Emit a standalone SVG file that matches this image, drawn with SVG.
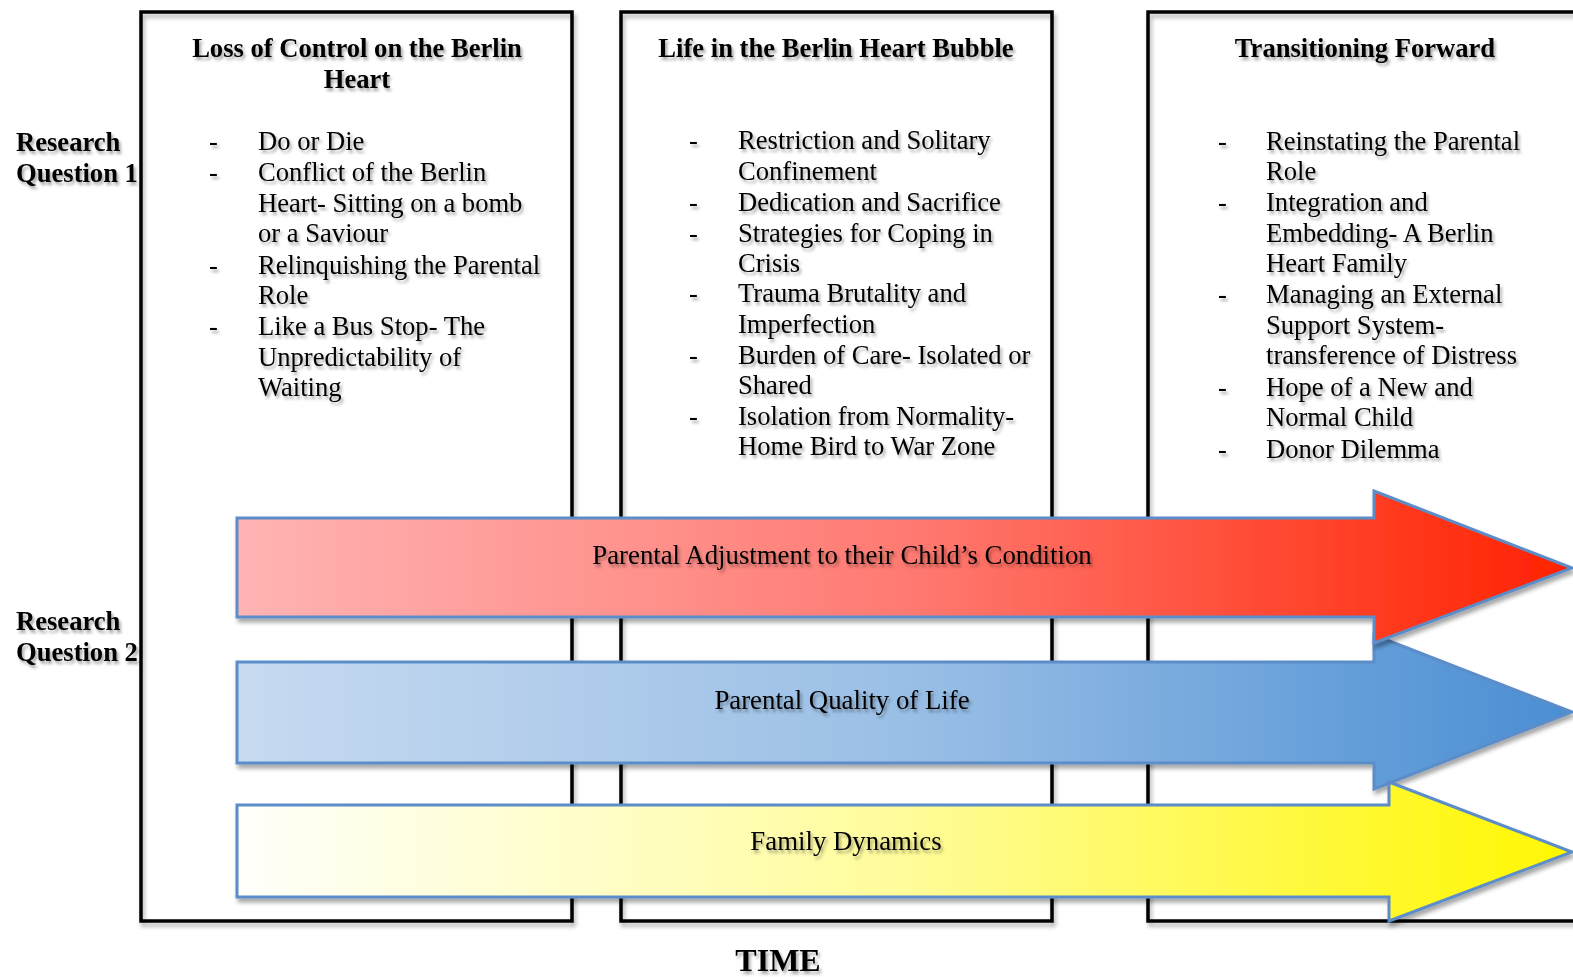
<svg xmlns="http://www.w3.org/2000/svg" width="1573" height="977" viewBox="0 0 1573 977">
<defs>
<style>
.t{font-family:"Liberation Serif","Times New Roman",serif;fill:#000;filter:url(#ts)}
.b{font-weight:bold}
.ti{font-size:26.6px;font-weight:bold;text-anchor:middle}
.it{font-size:26.6px}
.lab{font-size:26.8px;text-anchor:middle}
.box{fill:none;stroke:#000;stroke-width:3.5;filter:url(#bs)}
.arr{stroke:#5B8DC8;stroke-width:3;filter:url(#as)}
</style>
<filter id="ts" x="-10%" y="-30%" width="130%" height="180%">
<feDropShadow dx="2" dy="3" stdDeviation="1.6" flood-color="#000" flood-opacity="0.35"/>
</filter>
<filter id="bs" x="-5%" y="-5%" width="110%" height="110%">
<feDropShadow dx="2" dy="4" stdDeviation="2" flood-color="#000" flood-opacity="0.3"/>
</filter>
<filter id="as" x="-5%" y="-10%" width="110%" height="130%">
<feDropShadow dx="2" dy="4" stdDeviation="2" flood-color="#000" flood-opacity="0.35"/>
</filter>
<linearGradient id="gr" x1="0" y1="0" x2="1" y2="0">
<stop offset="0" stop-color="#FFB4B4"/>
<stop offset="0.5" stop-color="#FF7A72"/>
<stop offset="1" stop-color="#FF2200"/>
</linearGradient>
<linearGradient id="gb" x1="0" y1="0" x2="1" y2="0">
<stop offset="0" stop-color="#C7DAF0"/>
<stop offset="0.5" stop-color="#9ABFE6"/>
<stop offset="1" stop-color="#4A8ED3"/>
</linearGradient>
<linearGradient id="gy" x1="0" y1="0" x2="1" y2="0">
<stop offset="0" stop-color="#FFFFFB"/>
<stop offset="0.5" stop-color="#FFFC9A"/>
<stop offset="1" stop-color="#FFF700"/>
</linearGradient>
</defs>
<rect width="1573" height="977" fill="#fff"/>

<g id="box1">
<rect class="box" x="141" y="12" width="431" height="909"/>
<text class="t ti" x="357" y="57">Loss of Control on the Berlin</text>
<text class="t ti" x="357" y="88">Heart</text>
<g class="t it">
<text x="209" y="150">-</text><text x="258" y="150">Do or Die</text>
<text x="209" y="181">-</text><text x="258" y="181">Conflict of the Berlin</text>
<text x="258" y="212">Heart- Sitting on a bomb</text>
<text x="258" y="242">or a Saviour</text>
<text x="209" y="274">-</text><text x="258" y="274">Relinquishing the Parental</text>
<text x="258" y="304">Role</text>
<text x="209" y="335">-</text><text x="258" y="335">Like a Bus Stop- The</text>
<text x="258" y="366">Unpredictability of</text>
<text x="258" y="396">Waiting</text>
</g>
</g>

<g id="box2">
<rect class="box" x="621" y="12" width="431" height="909"/>
<text class="t ti" x="836" y="57">Life in the Berlin Heart Bubble</text>
<g class="t it">
<text x="689" y="149">-</text><text x="738" y="149">Restriction and Solitary</text>
<text x="738" y="180">Confinement</text>
<text x="689" y="211">-</text><text x="738" y="211">Dedication and Sacrifice</text>
<text x="689" y="242">-</text><text x="738" y="242">Strategies for Coping in</text>
<text x="738" y="272">Crisis</text>
<text x="689" y="302">-</text><text x="738" y="302">Trauma Brutality and</text>
<text x="738" y="333">Imperfection</text>
<text x="689" y="364">-</text><text x="738" y="364">Burden of Care- Isolated or</text>
<text x="738" y="394">Shared</text>
<text x="689" y="425">-</text><text x="738" y="425">Isolation from Normality-</text>
<text x="738" y="455">Home Bird to War Zone</text>
</g>
</g>

<g id="box3">
<rect class="box" x="1148" y="12" width="440" height="909"/>
<text class="t ti" x="1365" y="57">Transitioning Forward</text>
<g class="t it">
<text x="1218" y="150">-</text><text x="1266" y="150">Reinstating the Parental</text>
<text x="1266" y="180">Role</text>
<text x="1218" y="211">-</text><text x="1266" y="211">Integration and</text>
<text x="1266" y="242">Embedding- A Berlin</text>
<text x="1266" y="272">Heart Family</text>
<text x="1218" y="303">-</text><text x="1266" y="303">Managing an External</text>
<text x="1266" y="334">Support System-</text>
<text x="1266" y="364">transference of Distress</text>
<text x="1218" y="396">-</text><text x="1266" y="396">Hope of a New and</text>
<text x="1266" y="426">Normal Child</text>
<text x="1218" y="458">-</text><text x="1266" y="458">Donor Dilemma</text>
</g>
</g>

<g id="rq1" class="t b" font-size="26.6">
<text x="16" y="151">Research</text>
<text x="16" y="182">Question 1</text>
</g>
<g id="rq2" class="t b" font-size="26.6">
<text x="16" y="630">Research</text>
<text x="16" y="661">Question 2</text>
</g>

<g id="connectors">
<g id="arrow-blue">
<polygon class="arr" fill="url(#gb)" points="237,662 1374,662 1374,635 1572,712 1374,789 1374,763 237,763"/>
<text class="t lab" x="842" y="709">Parental Quality of Life</text>
</g>
<g id="arrow-yellow">
<polygon class="arr" fill="url(#gy)" points="237,805 1389,805 1389,782 1572,852 1389,921 1389,897 237,897"/>
<text class="t lab" x="846" y="850">Family Dynamics</text>
</g>
<g id="arrow-red">
<polygon class="arr" fill="url(#gr)" points="237,518 1374,518 1374,491 1572,568 1374,643 1374,617 237,617"/>
<text class="t lab" x="842" y="564">Parental Adjustment to their Child’s Condition</text>
</g>
</g>

<text id="time" class="t b" x="778" y="971" font-size="32" text-anchor="middle">TIME</text>
</svg>
